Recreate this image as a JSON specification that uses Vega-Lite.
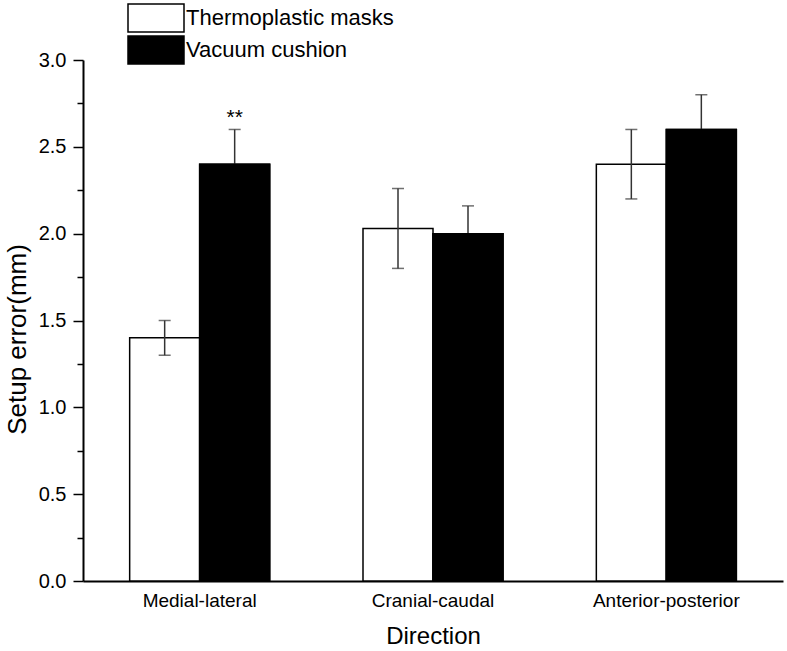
{
  "$schema": "https://vega.github.io/schema/vega-lite/v6.json",
  "width": 700,
  "height": 521,
  "autosize": {"type": "none"},
  "padding": {"left": 83, "top": 60, "right": 4, "bottom": 70},
  "background": "white",
  "config": {
    "font": "Liberation Sans",
    "view": {"stroke": null},
    "axis": {"grid": false, "domainColor": "black", "tickColor": "black", "labelColor": "black", "titleColor": "black", "titleFontWeight": "normal", "labelFont": "Liberation Sans", "titleFont": "Liberation Sans"},
    "legend": {"labelFont": "Liberation Sans"}
  },
  "data": {
    "values": [
      {"direction": "Medial-lateral", "group": "Thermoplastic masks", "value": 1.4, "low": 1.3, "high": 1.5, "note": ""},
      {"direction": "Medial-lateral", "group": "Vacuum cushion", "value": 2.4, "low": 2.2, "high": 2.6, "note": "**"},
      {"direction": "Cranial-caudal", "group": "Thermoplastic masks", "value": 2.03, "low": 1.8, "high": 2.26, "note": ""},
      {"direction": "Cranial-caudal", "group": "Vacuum cushion", "value": 2.0, "low": 1.84, "high": 2.16, "note": ""},
      {"direction": "Anterior-posterior", "group": "Thermoplastic masks", "value": 2.4, "low": 2.2, "high": 2.6, "note": ""},
      {"direction": "Anterior-posterior", "group": "Vacuum cushion", "value": 2.6, "low": 2.4, "high": 2.8, "note": ""}
    ]
  },
  "encoding": {
    "x": {
      "field": "direction",
      "type": "nominal",
      "sort": ["Medial-lateral", "Cranial-caudal", "Anterior-posterior"],
      "scale": {"paddingInner": 0.4, "paddingOuter": 0.2},
      "axis": {
        "title": "Direction",
        "titleFontSize": 24,
        "titlePadding": 14,
        "labelFontSize": 19,
        "labelPadding": 10,
        "labelAngle": 0,
        "ticks": false,
        "domainWidth": 2
      }
    },
    "xOffset": {"field": "group", "type": "nominal", "sort": ["Thermoplastic masks", "Vacuum cushion"], "scale": {"paddingInner": 0, "paddingOuter": 0}}
  },
  "resolve": {"axis": {"y": "independent"}},
  "layer": [
    {
      "mark": {"type": "bar", "stroke": "black", "strokeWidth": 1.5},
      "encoding": {
        "y": {
          "field": "value",
          "type": "quantitative",
          "scale": {"domain": [0, 3], "nice": false},
          "axis": {
            "title": "Setup error(mm)",
            "titleFontSize": 26,
            "titlePadding": 8,
            "titleY": 279,
            "labelFontSize": 20,
            "labelPadding": 7,
            "values": [0, 0.5, 1, 1.5, 2, 2.5, 3],
            "format": ".1f",
            "tickSize": 10,
            "tickWidth": 1.5,
            "domainWidth": 2
          }
        },
        "fill": {
          "field": "group",
          "type": "nominal",
          "scale": {"domain": ["Thermoplastic masks", "Vacuum cushion"], "range": ["white", "black"]},
          "legend": {
            "title": null,
            "orient": "none",
            "legendX": 58,
            "legendY": -57,
            "padding": 0,
            "symbolType": "M-2,-1H2V1H-2Z",
            "symbolSize": 784,
            "symbolStrokeColor": "black",
            "symbolStrokeWidth": 1.5,
            "labelFontSize": 22,
            "labelColor": "black",
            "labelOffset": 15,
            "rowPadding": -6,
            "labelLimit": 400
          }
        }
      }
    },
    {
      "mark": {"type": "rule", "color": "#333333", "strokeWidth": 1.5},
      "encoding": {
        "y": {
          "field": "low",
          "type": "quantitative",
          "axis": {
            "orient": "left",
            "title": null,
            "values": [0.25, 0.75, 1.25, 1.75, 2.25, 2.75],
            "labels": false,
            "domain": false,
            "tickSize": 6,
            "tickWidth": 1.5,
            "offset": 0
          }
        },
        "y2": {"field": "high"}
      }
    },
    {
      "mark": {"type": "tick", "color": "#333333", "thickness": 1.5, "size": 12, "orient": "horizontal"},
      "encoding": {
        "y": {"field": "low", "type": "quantitative", "axis": null}
      }
    },
    {
      "mark": {"type": "tick", "color": "#333333", "thickness": 1.5, "size": 12, "orient": "horizontal"},
      "encoding": {
        "y": {"field": "high", "type": "quantitative", "axis": null}
      }
    },
    {
      "transform": [{"filter": "datum.group === 'Vacuum cushion'"}],
      "mark": {"type": "bar", "stroke": "black", "strokeWidth": 1.5, "fill": "black"},
      "encoding": {
        "y": {"field": "value", "type": "quantitative", "axis": null}
      }
    },
    {
      "mark": {"type": "text", "fontSize": 21, "dy": -11, "color": "black", "font": "Liberation Sans"},
      "encoding": {
        "y": {"field": "high", "type": "quantitative", "axis": null},
        "text": {"field": "note"}
      }
    }
  ]
}
